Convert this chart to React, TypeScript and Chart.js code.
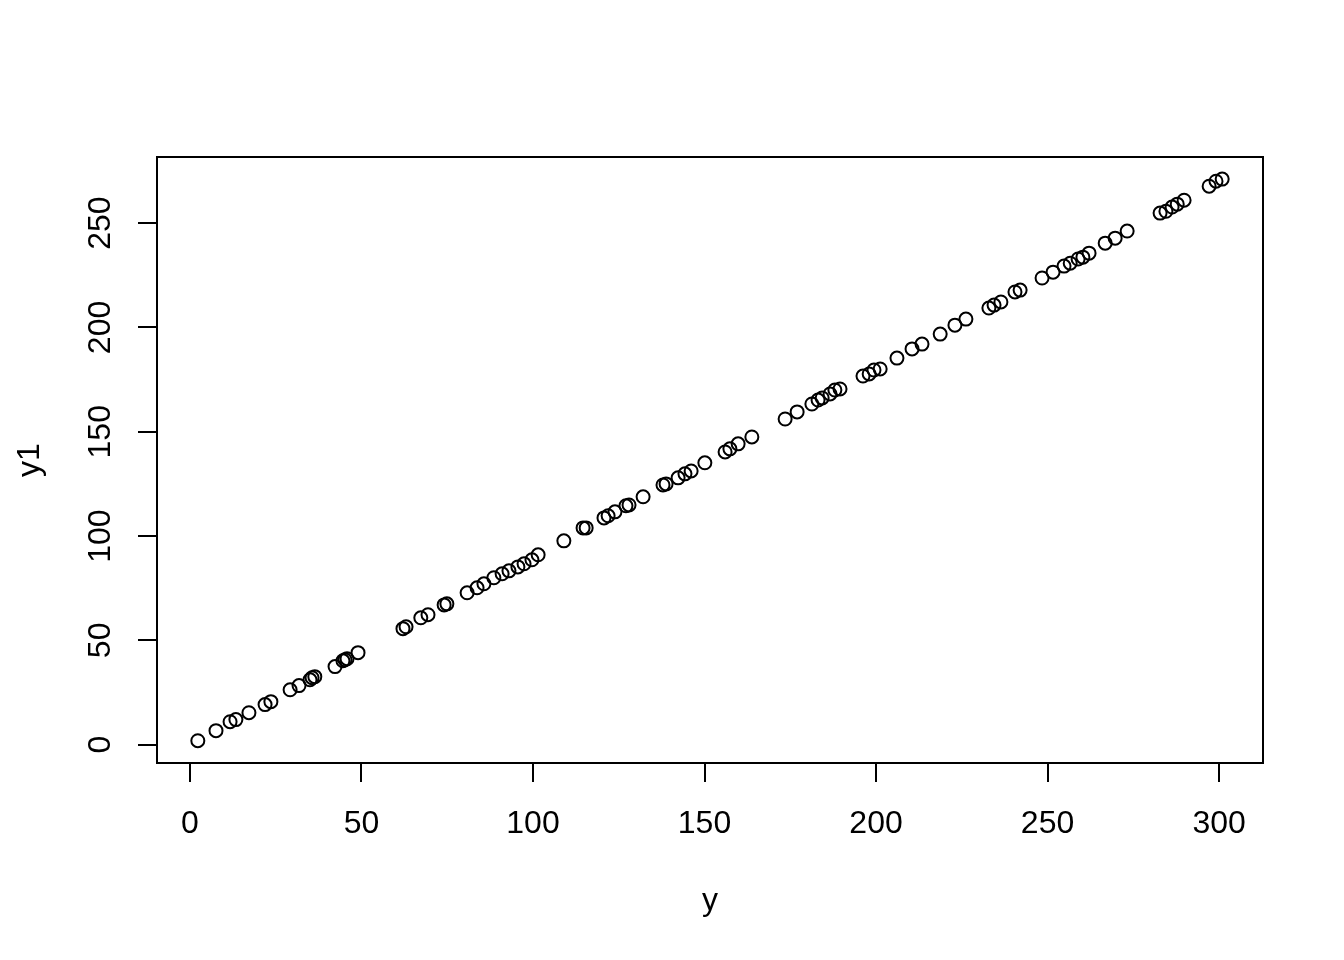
import React, { useEffect, useRef } from "react";
import { Chart, registerables } from "chart.js";

Chart.register(...registerables);

const xValues = [
  2.3, 7.6, 11.7, 13.4, 17.2, 21.9, 23.6, 29.2, 31.8, 35.0, 35.6, 36.4, 42.3, 44.6, 45.2, 45.8, 49.0,
  62.1, 63.0, 67.3, 69.4, 74.1, 74.9, 80.8, 83.7, 85.7, 88.6, 91.0, 93.0, 95.6, 97.4, 99.7, 101.5,
  109.0, 114.6, 115.5, 120.7, 121.9, 123.9, 127.1, 128.0, 132.1, 137.9, 138.8, 142.3, 144.3, 146.1,
  150.1, 156.0, 157.4, 159.8, 163.8, 173.5, 177.0, 181.3, 183.1, 184.3, 186.6, 188.0, 189.5, 196.2,
  198.0, 199.4, 201.2, 206.1, 210.5, 213.4, 218.7, 223.0, 226.2, 232.9, 234.4, 236.4, 240.5, 242.0,
  248.4, 251.6, 254.8, 256.6, 258.9, 260.3, 262.1, 266.8, 269.7, 273.2, 282.8, 284.5, 286.3, 287.8,
  289.8, 297.1, 299.1, 300.9,
];

const yValues = [
  1.9, 6.7, 11.0, 12.0, 15.3, 19.2, 20.6, 26.3, 28.3, 31.1, 32.1, 32.6, 37.4, 40.2, 40.7, 41.2, 44.1,
  55.6, 56.5, 60.8, 62.3, 67.0, 67.5, 72.8, 75.2, 77.1, 80.0, 81.9, 83.3, 85.2, 86.7, 88.6, 91.0,
  97.7, 103.9, 103.9, 108.7, 109.7, 111.6, 114.5, 114.9, 118.8, 124.5, 125.0, 127.9, 129.8, 131.2,
  135.1, 140.3, 141.8, 144.2, 147.5, 156.1, 159.5, 163.3, 165.2, 166.2, 168.1, 170.0, 170.5, 176.7,
  177.7, 179.6, 180.1, 185.3, 189.7, 192.0, 196.8, 201.1, 204.0, 209.3, 210.7, 212.2, 217.0, 217.9,
  223.7, 226.5, 229.4, 230.8, 232.8, 233.7, 235.6, 240.4, 242.8, 246.2, 254.8, 255.7, 257.7, 259.1,
  261.0, 267.7, 270.1, 271.1,
];

const xTicks = [0, 50, 100, 150, 200, 250, 300];
const yTicks = [0, 50, 100, 150, 200, 250];
const xTitle = "y";
const yTitle = "y1";

const FONT = "'Liberation Sans', Arial, sans-serif";

const boxPlugin = {
  id: "boxPlugin",
  afterDraw(chart: any) {
    const { ctx, chartArea } = chart;
    ctx.save();
    ctx.strokeStyle = "#000";
    ctx.lineWidth = 2;
    ctx.strokeRect(chartArea.left, chartArea.top, chartArea.right - chartArea.left, chartArea.bottom - chartArea.top);
    ctx.restore();
  },
};

export default function App() {
  const ref = useRef<HTMLCanvasElement | null>(null);

  useEffect(() => {
    if (!ref.current) return;
    const data = xValues.map((x, i) => ({ x, y: yValues[i] }));
    const chart = new Chart(ref.current, {
      type: "scatter",
      data: {
        datasets: [
          {
            data,
            pointStyle: "circle",
            pointRadius: 6.5,
            pointBorderWidth: 2,
            borderColor: "#000",
            backgroundColor: "rgba(0,0,0,0)",
            pointBackgroundColor: "rgba(0,0,0,0)",
            pointBorderColor: "#000",
          },
        ],
      },
      options: {
        responsive: false,
        animation: false,
        layout: { padding: { top: 157, right: 81, left: 0, bottom: 0 } },
        plugins: { legend: { display: false }, tooltip: { enabled: false } },
        scales: {
          x: {
            type: "linear",
            min: -9.6,
            max: 312.8,
            afterBuildTicks: (s: any) => {
              s.ticks = xTicks.map((v) => ({ value: v }));
            },
            afterFit: (s: any) => {
              s.height = 197;
            },
            grid: { drawOnChartArea: false, drawTicks: true, tickLength: 19, lineWidth: 2, color: "#000" },
            border: { display: true, width: 2, color: "#000" },
            ticks: {
              color: "#000",
              font: { family: FONT, size: 32 },
              padding: 23,
              maxRotation: 0,
              minRotation: 0,
            },
            title: {
              display: true,
              text: xTitle,
              color: "#000",
              font: { family: FONT, size: 32 },
              padding: { top: 0, bottom: 40 },
            },
          },
          y: {
            type: "linear",
            min: -8.8,
            max: 281.7,
            afterBuildTicks: (s: any) => {
              s.ticks = yTicks.map((v) => ({ value: v }));
            },
            afterFit: (s: any) => {
              s.width = 157;
            },
            grid: { drawOnChartArea: false, drawTicks: true, tickLength: 19, lineWidth: 2, color: "#000" },
            border: { display: true, width: 2, color: "#000" },
            ticks: {
              color: "#000",
              font: { family: FONT, size: 32 },
              padding: 10,
              minRotation: 90,
              maxRotation: 90,
              crossAlign: "center",
            },
            title: {
              display: true,
              text: yTitle,
              color: "#000",
              font: { family: FONT, size: 32 },
              padding: { top: 11, bottom: 0 },
            },
          },
        },
      },
      plugins: [boxPlugin],
    } as any);
    return () => chart.destroy();
  }, []);

  return (
    <div style={{ position: "absolute", left: 0, top: 0, width: 1344, height: 960, background: "#fff" }}>
      <canvas ref={ref} width={1344} height={960} style={{ display: "block", width: 1344, height: 960 }} />
    </div>
  );
}
